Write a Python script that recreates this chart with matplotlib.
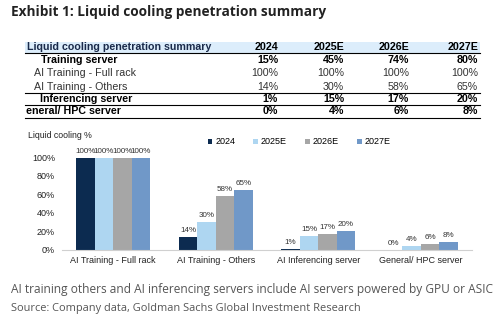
import matplotlib.pyplot as plt
from matplotlib.patches import Rectangle
from matplotlib.transforms import Bbox, TransformedBbox

# chart data
categories = ["AI Training - Full rack", "AI Training - Others",
              "AI Inferencing server", "General/ HPC server"]
years = ["2024", "2025E", "2026E", "2027E"]
vals_2024 = [100, 14, 1, 0]
vals_2025 = [100, 30, 15, 4]
vals_2026 = [100, 58, 17, 6]
vals_2027 = [100, 65, 20, 8]
training_server = [15, 45, 74, 80]

colors = ["#0c2b50", "#aed6f1", "#a6a6a6", "#7098c8"]

W, H = 500, 323
fig = plt.figure(figsize=(W / 100, H / 100), dpi=100)

# overlay axes in pixel coordinates for the text / table
bg = fig.add_axes([0, 0, 1, 1])
bg.set_xlim(0, W)
bg.set_ylim(H, 0)
bg.axis("off")

bg.text(11, 12, "Exhibit 1: Liquid cooling penetration summary",
        fontsize=9.85, fontweight="bold", family="Open Sans",
        color="#222222", va="center")

# -------------------------------
# TABLE
# -------------------------------
tf = "Liberation Sans"
bg.add_patch(Rectangle((25, 42), 455, 10.5, color="#dcedfb", lw=0))
bg.plot([25, 480], [52.5, 52.5], color="black", lw=0.8)
bg.plot([25, 480], [92.5, 92.5], color="black", lw=0.8)
bg.plot([25, 480], [104.5, 104.5], color="black", lw=0.8)
bg.plot([25, 480], [118, 118], color="black", lw=0.8)

col_right = [278, 344, 409, 478]
bg.text(27, 47, "Liquid cooling penetration summary", family=tf,
        fontsize=7.7, fontweight="bold", color="#1a2a4a", va="center")
for x, y in zip(col_right, years):
    bg.text(x, 47, y, family=tf, fontsize=7.7, fontweight="bold",
            ha="right", va="center")

def col(i):
    return [vals_2024[i], vals_2025[i], vals_2026[i], vals_2027[i]]

table_rows = [
    ("Training server", training_server, True, 41, 60),
    ("AI Training - Full rack", col(0), False, 34, 73),
    ("AI Training - Others", col(1), False, 34, 86.5),
    ("Inferencing server", col(2), True, 40, 98.5),
    ("General/ HPC server", col(3), True, 18, 111.5),
]
# the first cell clips its text at the table's left edge
clip_box = TransformedBbox(Bbox([[25.5, 0], [485, H]]), bg.transData)
for label, row, bold, x0, y in table_rows:
    w = "bold" if bold else "normal"
    c = "black" if bold else "#333333"
    t = bg.text(x0, y, label, family=tf, fontsize=7.7, fontweight=w,
                color=c, va="center")
    t.set_clip_on(True)
    t.set_clip_path(None)
    t.set_clip_box(clip_box)
    for x, v in zip(col_right, row):
        bg.text(x, y, f"{v}%", family=tf, fontsize=7.7, fontweight=w,
                color=c, ha="right", va="center")

# -------------------------------
# BAR CHART
# -------------------------------
left, right, y0, y100 = 62, 472, 249.5, 157.5
ax = fig.add_axes([left / W, (H - y0) / H, (right - left) / W, (y0 - y100) / H])
ax.set_xlim(-0.5, 3.5)
ax.set_ylim(0, 100)

series = [vals_2024, vals_2025, vals_2026, vals_2027]
bw = 0.18
for i, (vals, yr, c) in enumerate(zip(series, years, colors)):
    xs = [k + (i - 1.5) * bw for k in range(len(categories))]
    bars = ax.bar(xs, vals, width=bw, color=c, label=yr)
    for b, v in zip(bars, vals):
        ax.text(b.get_x() + b.get_width() / 2, v + 3, f"{v}%",
                ha="center", va="bottom", fontsize=5.8, family=tf,
                color="#333333", clip_on=False)

ax.set_xticks(range(len(categories)))
ax.set_xticklabels(categories, family=tf, fontsize=6.5, color="#222222")
ax.set_yticks(range(0, 101, 20))
ax.set_yticklabels([f"{v}%" for v in range(0, 101, 20)], family=tf,
                   fontsize=6.5, color="#222222")
ax.tick_params(length=0, pad=5)
for s in ["top", "right", "left"]:
    ax.spines[s].set_visible(False)
ax.spines["bottom"].set_color("#d0d0d0")
ax.patch.set_alpha(0)

bg.text(28, 136, "Liquid cooling %", family=tf, fontsize=6.3,
        color="#222222", va="center")
leg = ax.legend(loc="center left", bbox_to_anchor=(203 / W, (H - 142) / H),
                bbox_transform=fig.transFigure, ncol=4, frameon=False,
                prop={"family": tf, "size": 6.5}, handlelength=0.55,
                handleheight=0.55, handletextpad=0.3, columnspacing=2.0,
                borderpad=0)

# -------------------------------
# FOOTNOTES
# -------------------------------
bg.text(11, 289, "AI training others and AI inferencing servers include AI servers powered by GPU or ASIC",
        family="Open Sans", fontsize=8.55, color="#555555", va="center")
bg.text(11, 308, "Source: Company data, Goldman Sachs Global Investment Research",
        family="Open Sans", fontsize=7.9, color="#555555", va="center")

fig.savefig("out.png", dpi=100)
